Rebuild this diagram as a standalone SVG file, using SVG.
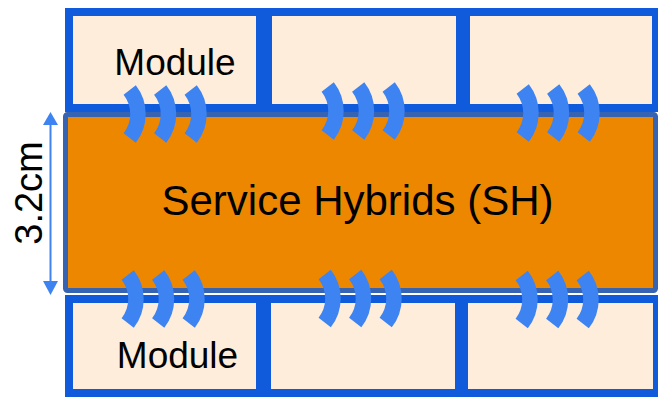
<svg xmlns="http://www.w3.org/2000/svg" xmlns:xlink="http://www.w3.org/1999/xlink" width="658" height="399" viewBox="0 0 658 399">
  <style>
    .module { fill: #FDEDDA; stroke: #0F5BDB; stroke-width: 8; }
    .sh { fill: #EE8700; stroke: #3763B3; stroke-width: 5; }
    .label { font-family: "Liberation Sans", Arial, sans-serif; fill: #000; }
    .wave { fill: none; stroke: #3D83F2; stroke-width: 15.5; }
    .dim { stroke: #3D83F2; stroke-width: 2; fill: none; }
    .dimhead { fill: #3D83F2; }
  </style>
  <defs>
    <!-- one thick ")" arc, circle centre at the origin -->
    <path id="arc" class="wave" d="M 30.7 -24 A 39 39 0 0 1 30.7 24"/>
    <!-- three arcs side by side -->
    <g id="waves">
      <use xlink:href="#arc"/>
      <use xlink:href="#arc" x="30.5"/>
      <use xlink:href="#arc" x="61"/>
    </g>
  </defs>

  <!-- upper row of modules -->
  <g id="module-top-1">
    <rect class="module" x="69" y="12" width="191" height="96"/>
    <text class="label" x="175" y="75" font-size="37" text-anchor="middle">Module</text>
  </g>
  <g id="module-top-2">
    <rect class="module" x="268" y="12" width="192" height="96"/>
  </g>
  <g id="module-top-3">
    <rect class="module" x="466" y="12" width="190" height="96"/>
  </g>

  <!-- lower row of modules -->
  <g id="module-bottom-1">
    <rect class="module" x="69" y="299" width="191" height="94"/>
    <text class="label" x="177.5" y="368" font-size="37" text-anchor="middle">Module</text>
  </g>
  <g id="module-bottom-2">
    <rect class="module" x="267" y="299" width="192" height="94"/>
  </g>
  <g id="module-bottom-3">
    <rect class="module" x="464" y="299" width="193" height="94"/>
  </g>

  <!-- service hybrid board in the middle -->
  <g id="service-hybrids">
    <rect class="sh" x="65.5" y="114.5" width="590" height="176" rx="2"/>
    <text class="label" x="357.5" y="215" font-size="42" text-anchor="middle">Service Hybrids (SH)</text>
  </g>

  <!-- coupling arcs between modules and the SH -->
  <g id="couplings">
    <use xlink:href="#waves" transform="translate(99,114)"/>
    <use xlink:href="#waves" transform="translate(297,111)"/>
    <use xlink:href="#waves" transform="translate(492,113)"/>
    <use xlink:href="#waves" transform="translate(97,299)"/>
    <use xlink:href="#waves" transform="translate(294,298.5)"/>
    <use xlink:href="#waves" transform="translate(491,299.5)"/>
  </g>

  <!-- height dimension of the SH -->
  <g id="connectors">
    <line class="dim" x1="50.5" y1="124" x2="50.5" y2="282"/>
    <polygon class="dimhead" points="50.5,112 43,125 58,125"/>
    <polygon class="dimhead" points="50.5,295 43,281 58,281"/>
    <text class="label" transform="translate(42,193) rotate(-90)" font-size="38" text-anchor="middle">3.2cm</text>
  </g>
</svg>
